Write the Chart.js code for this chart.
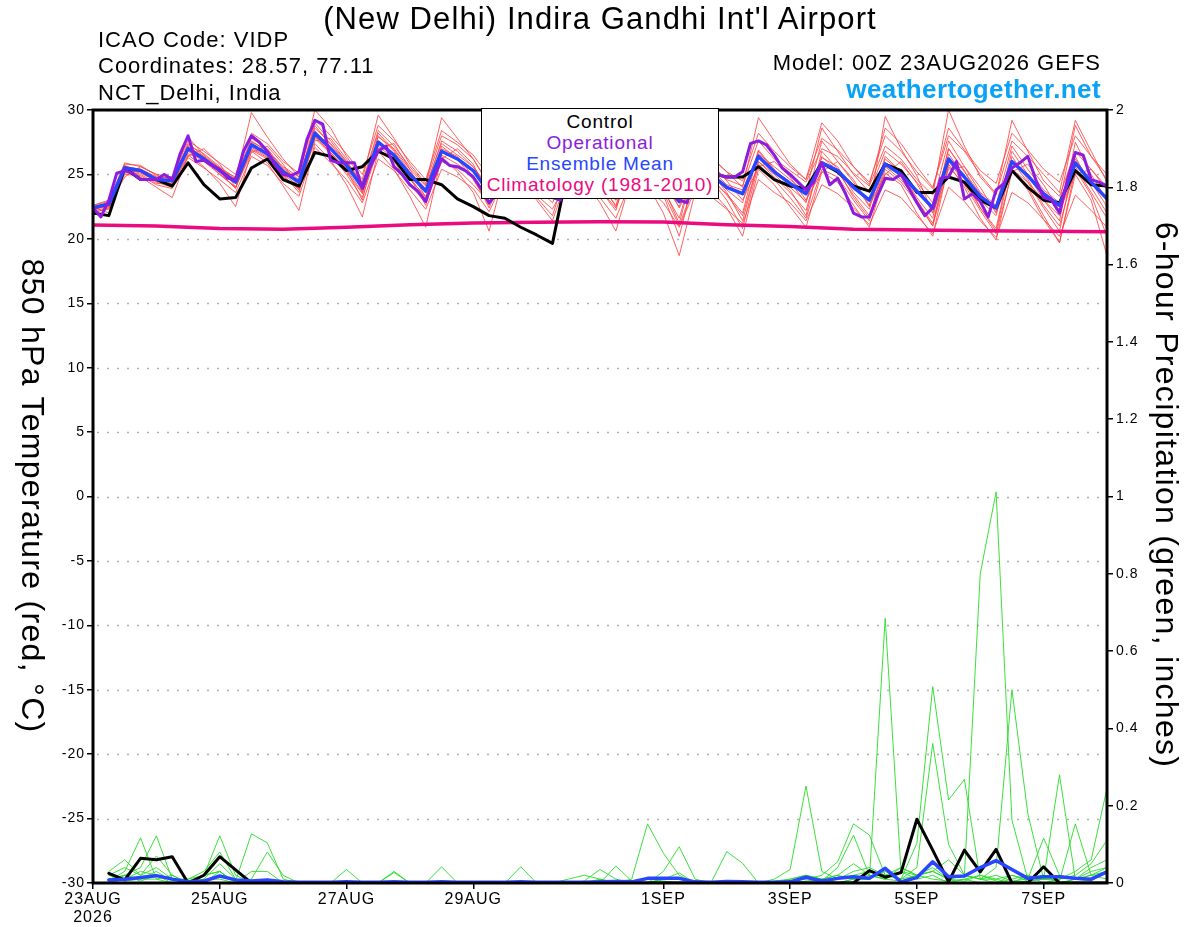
<!DOCTYPE html>
<html>
<head>
<meta charset="utf-8">
<title>VIDP GEFS meteogram</title>
<script src="https://cdn.jsdelivr.net/npm/chart.js@4.4.1/dist/chart.umd.min.js"></script>
<style>
html, body { margin: 0; padding: 0; background: #fff; }
#wrap { position: relative; width: 1200px; height: 927px; overflow: hidden;
        font-family: 'Liberation Sans', Arial, sans-serif; color: #000; }
#chart { position: absolute; left: 0; top: 0; }
.txt { position: absolute; white-space: nowrap; }
#title { left: 0; width: 1200px; top: 2px; text-align: center; font-size: 31px; line-height: 34px; letter-spacing: 1.1px; }
.info { left: 98px; font-size: 22px; line-height: 22px; letter-spacing: 1px; }
.rinfo { right: 99px; text-align: right; }
#model { top: 52px; font-size: 22px; line-height: 22px; letter-spacing: 1px; }
#site { top: 75px; font-size: 26px; line-height: 28px; font-weight: bold; color: #0aa2f7; letter-spacing: 0.4px; }
#legend { position: absolute; left: 481px; top: 108px; width: 236px; height: 87px;
          border: 1.5px solid #000; background: #fff; text-align: center;
          font-size: 19px; line-height: 21px; padding-top: 2px; letter-spacing: 0.8px; box-sizing: content-box; }
.vtitle { position: absolute; writing-mode: vertical-rl; font-size: 32px; line-height: 34px;
          letter-spacing: 1.3px; white-space: nowrap; transform: translate(-50%, -50%); }
</style>
</head>
<body>
<div id="wrap">
  <canvas id="chart" width="1200" height="927"></canvas>
  <div class="txt" id="title">(New Delhi) Indira Gandhi Int'l Airport</div>
  <div class="txt info" style="top:29px">ICAO Code: VIDP</div>
  <div class="txt info" style="top:55px">Coordinates: 28.57, 77.11</div>
  <div class="txt info" style="top:82px">NCT_Delhi, India</div>
  <div class="txt rinfo" id="model">Model: 00Z 23AUG2026 GEFS</div>
  <div class="txt rinfo" id="site">weathertogether.net</div>
  <div id="legend">
    <div style="color:#000">Control</div>
    <div style="color:#8b1ce0">Operational</div>
    <div style="color:#2846ff">Ensemble Mean</div>
    <div style="color:#ec0a80">Climatology (1981-2010)</div>
  </div>
  <div class="vtitle" style="left:33px; top:496px">850 hPa Temperature (red, °C)</div>
  <div class="vtitle" style="left:1167px; top:495px">6-hour Precipitation (green, inches)</div>
</div>

<script>
const FONT = "'Liberation Sans', Arial, sans-serif";

// x axis = forecast hour from 00Z 23AUG2026
const tickHours = [0, 48, 96, 144, 216, 264, 312, 360];
const tickLabels = [['23AUG', '2026'], '25AUG', '27AUG', '29AUG', '1SEP', '3SEP', '5SEP', '7SEP'];

// 850 hPa temperature, 6-hourly from hour 0
const controlTemp = [22.0,
  21.8, 25.5, 24.6, 24.6,  24.1, 25.9, 24.2, 23.1,  23.2, 25.5, 26.2, 24.6,  24.1, 26.7, 26.4, 25.3,
  25.6, 26.8, 26.2, 24.6,  24.6, 24.2, 23.1, 22.5,  21.8, 21.6, 20.9, 20.3,  19.65, 25.6, 25.2, 24.5,
  23.6, 25.8, 25.4, 24.4,  23.4, 25.4, 25.1, 24.8,  24.8, 25.6, 24.6, 24.1,  23.9, 25.9, 25.2, 24.1,
  23.7, 25.8, 25.3, 23.6,  23.6, 24.8, 24.4, 23.0,  22.4, 25.3, 24.0, 23.0,  22.8, 25.3, 24.2, 24.1];

const ensMeanTemp = [22.4,
  22.7, 25.5, 25.3, 24.6,  24.5, 27.0, 26.2, 25.3,  24.4, 27.3, 26.6, 25.2,  24.4, 28.2, 27.0, 25.7,
  24.0, 27.5, 26.5, 25.0,  23.7, 26.8, 26.2, 25.3,  23.6, 26.3, 25.6, 24.8,  23.8, 26.0, 25.5, 24.6,
  23.4, 26.0, 25.4, 24.3,  22.9, 25.6, 25.0, 24.0,  23.5, 26.4, 25.2, 24.3,  23.5, 25.9, 25.3, 24.0,
  23.0, 25.8, 25.0, 23.7,  22.4, 26.2, 24.8, 23.3,  22.4, 26.0, 24.9, 23.5,  22.6, 25.9, 24.4, 23.1];

// operational run, 3-hourly from hour 0 (one row per day)
const operTemp = [
  22.4, 21.7, 23.0, 25.1, 25.3, 25.1, 24.6, 24.6,
  24.6, 25.0, 24.6, 26.6, 28.0, 26.0, 26.1, 25.7,
  25.4, 24.7, 24.6, 26.8, 28.0, 27.5, 26.8, 25.7,
  25.0, 24.9, 25.2, 27.7, 29.2, 28.9, 26.1, 25.9,
  25.9, 25.9, 23.9, 25.6, 26.8, 27.2, 25.6, 25.0,
  24.2, 23.7, 22.9, 24.7, 26.2, 25.7, 25.6, 25.3,
  24.8, 23.9, 22.8, 23.5, 25.8, 26.2, 25.6, 25.0,
  24.4, 23.8, 23.2, 23.0, 25.6, 26.0, 25.4, 24.8,
  24.3, 23.7, 23.2, 23.4, 25.8, 26.1, 25.5, 24.8,
  24.2, 23.6, 23.0, 22.8, 25.0, 25.5, 25.2, 24.95,
  24.8, 24.8, 25.2, 27.4, 27.6, 27.3, 26.5, 25.5,
  25.0, 24.4, 23.8, 24.4, 25.9, 24.2, 24.7, 23.5,
  22.0, 21.7, 21.7, 23.3, 24.7, 24.6, 25.0, 23.9,
  22.8, 21.8, 22.4, 24.7, 24.8, 26.0, 23.1, 23.5,
  22.9, 21.7, 23.8, 24.3, 25.5, 25.9, 26.4, 24.6,
  23.2, 23.0, 22.0, 24.6, 26.7, 26.5, 24.6, 24.4,
  24.1];

// 1981-2010 climatology, daily from hour 0
const climoTemp = [21.07, 21.0, 20.8, 20.75, 20.9, 21.1, 21.22, 21.28, 21.32,
  21.3, 21.1, 20.95, 20.75, 20.68, 20.62, 20.58, 20.55];

// ensemble members, 6-hourly from hour 0
const member01 = [22.6,
  22.9, 25.9, 25.6, 25.0,  24.8, 27.6, 26.8, 25.9,  25.0, 28.2, 27.4, 26.0,  25.1, 29.3, 28.0, 26.6,
  25.0, 28.8, 27.6, 26.0,  24.6, 28.4, 27.5, 26.5,  24.8, 27.6, 26.8, 25.9,  24.7, 27.4, 26.6, 25.5,
  24.4, 27.5, 26.8, 25.5,  24.2, 27.2, 26.4, 25.2,  24.5, 28.2, 26.8, 25.6,  24.6, 27.8, 26.9, 25.6,
  24.4, 28.0, 26.8, 25.2,  23.9, 28.6, 26.9, 25.3,  24.3, 28.2, 26.9, 25.4,  24.4, 28.0, 26.4, 25.0];
const member02 = [22.1,
  22.3, 25.0, 24.9, 24.2,  23.9, 26.3, 25.5, 24.6,  23.6, 26.4, 25.7, 24.3,  23.3, 27.1, 25.9, 24.6,
  22.8, 26.2, 25.3, 23.8,  22.3, 25.4, 24.8, 23.9,  22.1, 24.8, 24.2, 23.4,  22.3, 24.6, 24.1, 23.2,
  21.6, 24.6, 23.9, 22.8,  20.9, 23.8, 23.3, 22.3,  21.2, 24.6, 23.6, 22.8,  21.4, 24.2, 23.5, 22.4,
  21.1, 23.8, 23.2, 21.8,  20.4, 24.0, 22.9, 21.4,  20.1, 23.6, 22.8, 21.5,  20.2, 23.4, 22.2, 20.9];
const member03 = [22.3,
  22.5, 25.6, 25.4, 24.8,  24.7, 27.9, 26.5, 25.5,  24.6, 29.8, 27.9, 26.2,  24.8, 30.0, 28.6, 26.4,
  24.6, 29.6, 27.8, 25.8,  24.3, 28.0, 27.3, 26.2,  24.1, 26.8, 26.0, 24.9,  23.2, 26.3, 25.7, 24.5,
  22.5, 25.4, 24.8, 23.6,  21.0, 24.4, 24.5, 23.5,  22.0, 26.8, 25.3, 24.4,  22.8, 27.6, 26.0, 24.4,
  22.5, 29.5, 27.0, 24.9,  22.0, 27.0, 25.2, 23.5,  22.1, 25.4, 24.4, 23.0,  21.4, 27.5, 25.0, 23.0];
const member04 = [22.5,
  22.0, 25.2, 24.8, 24.0,  23.2, 26.5, 25.6, 24.3,  22.5, 26.8, 25.9, 24.1,  22.2, 27.4, 26.1, 24.2,
  21.7, 26.8, 25.4, 23.3,  20.9, 26.4, 25.2, 23.6,  20.6, 25.3, 24.6, 23.0,  21.4, 25.0, 24.4, 22.8,
  20.6, 24.8, 24.2, 22.0,  18.7, 23.6, 23.8, 22.4,  20.2, 25.4, 24.2, 22.5,  20.9, 25.2, 24.4, 22.6,
  20.9, 25.1, 24.2, 22.0,  20.2, 25.8, 24.0, 21.6,  19.9, 25.3, 23.8, 21.5,  19.7, 25.0, 23.0, 18.7];
const member05 = [22.2,
  22.8, 25.7, 25.2, 24.7,  24.8, 27.2, 26.3, 25.4,  24.8, 27.6, 26.8, 25.6,  24.8, 28.6, 27.4, 26.0,
  24.2, 27.9, 27.0, 25.4,  24.1, 27.4, 26.5, 25.6,  24.0, 26.9, 26.3, 25.5,  24.4, 26.8, 26.2, 25.4,
  24.3, 27.0, 26.4, 25.2,  23.8, 26.6, 25.8, 24.6,  24.1, 27.6, 26.2, 25.3,  24.4, 27.0, 26.4, 25.1,
  24.1, 27.2, 26.2, 24.6,  23.4, 30.0, 27.2, 24.8,  23.4, 29.2, 26.8, 24.5,  23.3, 26.8, 25.4, 24.0];
const member06 = [22.4,
  22.6, 24.8, 25.6, 25.0,  24.2, 26.4, 27.0, 25.8,  24.0, 26.7, 27.2, 25.8,  24.0, 27.6, 27.8, 26.2,
  23.6, 27.0, 27.4, 25.4,  23.2, 26.2, 27.0, 25.8,  23.2, 25.6, 26.4, 25.4,  23.5, 25.6, 26.3, 25.0,
  23.0, 25.4, 26.2, 24.8,  22.4, 25.0, 25.8, 24.5,  23.0, 25.6, 26.0, 24.8,  23.0, 25.2, 26.0, 24.6,
  22.6, 25.0, 26.0, 24.3,  22.0, 25.4, 25.6, 24.0,  22.0, 25.2, 25.8, 24.2,  22.2, 25.0, 25.4, 23.8];
const member07 = [22.0,
  22.4, 25.3, 25.0, 24.3,  24.3, 26.8, 26.0, 25.0,  24.0, 27.0, 26.3, 24.8,  23.9, 28.0, 26.7, 25.4,
  23.6, 27.2, 26.2, 24.6,  23.3, 26.5, 25.8, 24.9,  23.1, 26.2, 25.3, 24.4,  23.2, 25.8, 25.2, 24.2,
  23.0, 26.6, 25.6, 24.2,  22.5, 26.2, 25.2, 23.8,  22.8, 26.9, 25.4, 24.0,  22.9, 26.3, 25.6, 23.6,
  22.3, 26.4, 25.2, 23.2,  21.6, 27.0, 25.3, 23.0,  21.8, 26.8, 25.0, 23.0,  21.8, 26.2, 24.4, 22.5];
const member08 = [22.6,
  23.0, 25.8, 25.7, 24.9,  24.6, 27.3, 26.6, 25.6,  24.7, 27.8, 27.0, 25.5,  24.6, 29.0, 27.6, 26.0,
  24.4, 28.4, 27.2, 25.6,  24.2, 29.4, 27.8, 26.2,  24.3, 27.4, 26.6, 25.6,  24.2, 27.2, 26.5, 25.4,
  24.1, 27.4, 26.6, 25.2,  23.6, 27.6, 26.3, 25.2,  24.0, 29.4, 27.6, 25.8,  24.6, 29.0, 27.6, 25.6,
  24.2, 28.6, 27.4, 25.6,  24.0, 28.0, 26.8, 25.0,  23.5, 27.6, 26.4, 25.0,  23.6, 29.2, 26.8, 24.4];
const member09 = [22.3,
  22.6, 25.4, 25.1, 24.5,  24.6, 26.9, 26.1, 25.2,  24.3, 27.1, 26.4, 25.0,  24.1, 27.9, 26.7, 25.2,
  23.5, 27.6, 26.4, 24.8,  23.1, 27.2, 26.2, 24.6,  22.6, 26.0, 25.4, 24.8,  23.6, 26.4, 25.6, 24.2,
  22.6, 26.2, 25.2, 23.8,  21.6, 25.8, 24.8, 23.4,  21.8, 26.0, 24.8, 23.6,  22.2, 26.4, 25.2, 23.4,
  21.8, 25.6, 24.6, 23.0,  21.2, 26.0, 24.4, 22.4,  20.8, 26.4, 24.6, 22.6,  21.0, 25.6, 23.6, 21.6];
const member10 = [22.4,
  22.5, 25.5, 25.2, 24.4,  24.0, 27.1, 26.4, 25.1,  23.9, 27.4, 26.5, 25.0,  23.6, 28.4, 27.1, 25.4,
  23.0, 28.0, 26.8, 24.8,  22.6, 27.0, 26.4, 24.8,  22.4, 25.2, 24.4, 23.2,  21.8, 25.6, 25.0, 23.8,
  22.2, 26.4, 25.8, 24.0,  21.2, 25.8, 25.2, 23.6,  21.4, 26.0, 25.0, 23.8,  21.8, 26.8, 25.4, 23.2,
  21.6, 26.2, 25.2, 23.0,  21.0, 26.6, 24.8, 22.4,  20.6, 26.0, 24.4, 22.4,  20.6, 26.4, 24.0, 22.0];
const member11 = [22.5,
  22.8, 25.6, 25.4, 24.8,  24.4, 27.4, 26.4, 25.5,  24.5, 27.5, 26.9, 25.4,  24.5, 28.8, 27.3, 25.9,
  24.3, 28.2, 26.9, 25.2,  23.9, 27.6, 26.8, 25.6,  23.8, 26.6, 26.0, 25.2,  24.0, 26.4, 25.8, 24.8,
  23.4, 26.2, 25.6, 24.4,  23.0, 26.0, 25.4, 24.2,  23.8, 26.6, 25.6, 24.6,  23.6, 28.6, 26.8, 25.0,
  23.6, 26.8, 25.8, 24.4,  22.8, 27.6, 25.6, 23.6,  22.6, 27.2, 25.4, 23.8,  22.8, 28.8, 26.4, 24.6];
const member12 = [22.2,
  22.4, 25.1, 25.3, 24.6,  24.1, 26.6, 26.2, 25.0,  24.0, 26.9, 26.2, 24.9,  23.8, 27.8, 26.6, 25.0,
  23.2, 27.0, 26.0, 24.2,  22.8, 26.0, 25.4, 24.2,  22.8, 25.8, 25.0, 24.0,  22.8, 25.4, 24.8, 23.8,
  22.4, 25.6, 24.8, 23.4,  20.2, 25.0, 24.6, 23.0,  20.8, 25.8, 24.6, 23.2,  21.6, 25.4, 24.8, 23.0,
  21.4, 25.4, 24.4, 22.8,  21.0, 25.6, 24.2, 22.2,  20.4, 25.2, 24.0, 21.8,  19.7, 25.4, 23.4, 20.2];
const tempMembers = [member01, member02, member03, member04, member05, member06,
  member07, member08, member09, member10, member11, member12];

// 6-hour precipitation (inches), 6-hourly from hour 6
const controlPrecip = [
  0.025, 0.008, 0.064, 0.06,  0.068, 0, 0.02, 0.068,  0.034, 0, 0, 0,  0, 0, 0, 0,
  0, 0, 0, 0,  0, 0, 0, 0,  0, 0, 0, 0,  0, 0, 0, 0,
  0, 0, 0, 0,  0, 0, 0, 0,  0, 0, 0, 0,  0, 0, 0, 0,
  0.032, 0.015, 0.027, 0.165,  0.085, 0.003, 0.085, 0.029,  0.087, 0, 0, 0.042,  0, 0, 0, 0];
const ensMeanPrecip = [
  0.008, 0.01, 0.014, 0.019,  0.01, 0.003, 0.005, 0.018,  0.008, 0.005, 0.008, 0.003,  0.002, 0.002, 0.002, 0.003,
  0.002, 0.002, 0.003, 0.002,  0.002, 0.003, 0.002, 0.002,  0.002, 0.002, 0.003, 0.002,  0.002, 0.002, 0.002, 0.003,
  0.004, 0.003, 0.012, 0.012,  0.012, 0.003, 0.002, 0.004,  0.003, 0.002, 0.002, 0.003,  0.015, 0.005, 0.012, 0.016,
  0.012, 0.038, 0.003, 0.014,  0.055, 0.016, 0.018, 0.04,  0.058, 0.035, 0.012, 0.016,  0.016, 0.012, 0.01, 0.029];
const precip01 = [
  0.005, 0.03, 0.117, 0.01,  0, 0, 0.01, 0.05,  0.01, 0, 0, 0,  0, 0, 0, 0,
  0, 0, 0, 0,  0, 0, 0, 0,  0, 0, 0.042, 0,  0, 0, 0, 0,
  0, 0, 0.01, 0.005,  0, 0, 0, 0,  0, 0, 0, 0.005,  0.01, 0.02, 0.055, 0.153,
  0.124, 0.02, 0.01, 0.02,  0.03, 0.01, 0.005, 0.02,  0.01, 0, 0.005, 0.01,  0.005, 0.153, 0.02, 0.01];
const precip02 = [
  0.01, 0.02, 0.04, 0.122,  0.01, 0, 0, 0.02,  0.005, 0.127, 0.104, 0.01,  0, 0, 0, 0,
  0, 0, 0, 0,  0, 0, 0, 0,  0, 0, 0, 0,  0, 0, 0.005, 0.035,
  0.01, 0, 0, 0,  0, 0, 0, 0,  0, 0, 0, 0,  0, 0.005, 0.04, 0.124,
  0.02, 0.01, 0.04, 0.02,  0.01, 0.005, 0.01, 0,  0, 0.02, 0.01, 0.116,  0.02, 0.01, 0.03, 0.04];
const precip03 = [
  0.02, 0.04, 0.02, 0.07,  0.02, 0, 0, 0.03,  0, 0.01, 0.08, 0.02,  0, 0, 0, 0,
  0, 0, 0, 0,  0, 0, 0, 0,  0, 0, 0, 0,  0, 0, 0, 0,
  0.044, 0.005, 0, 0,  0, 0, 0, 0,  0, 0, 0, 0,  0, 0, 0, 0.01,
  0.01, 0.685, 0.029, 0.01,  0.02, 0, 0.01, 0.02,  0.005, 0, 0.02, 0,  0.01, 0.03, 0.06, 0.245];
const precip04 = [
  0.03, 0.06, 0.02, 0.04,  0.01, 0.01, 0.02, 0.03,  0, 0, 0, 0,  0, 0, 0, 0.035,
  0, 0, 0, 0,  0, 0, 0, 0,  0, 0, 0, 0,  0, 0, 0, 0,
  0, 0.01, 0.153, 0.077,  0.02, 0, 0, 0,  0, 0, 0, 0,  0.02, 0, 0.01, 0.03,
  0.04, 0.02, 0.01, 0.103,  0.508, 0.215, 0.268, 0.01,  0.02, 0.005, 0.01, 0.02,  0, 0.01, 0.005, 0.03];
const precip05 = [
  0, 0.01, 0.03, 0.02,  0.01, 0.005, 0.02, 0.122,  0.02, 0, 0.01, 0,  0, 0, 0, 0,
  0, 0, 0.03, 0,  0, 0, 0, 0,  0, 0, 0, 0,  0, 0, 0, 0.01,
  0, 0, 0, 0.03,  0.094, 0.01, 0, 0,  0, 0, 0, 0,  0.005, 0.01, 0.02, 0.01,
  0.01, 0.03, 0.01, 0.04,  0.361, 0.1, 0.02, 0.01,  0.01, 0.02, 0.005, 0.01,  0.01, 0.02, 0.05, 0.111];
const precip06 = [
  0.01, 0.02, 0.01, 0.03,  0.005, 0.01, 0.03, 0.08,  0.01, 0, 0, 0,  0, 0, 0, 0,
  0, 0, 0, 0,  0, 0.042, 0, 0,  0, 0, 0, 0,  0, 0, 0, 0,
  0, 0, 0, 0.01,  0.026, 0, 0, 0,  0, 0, 0, 0.01,  0.02, 0.01, 0, 0.01,
  0.02, 0.01, 0.005, 0.02,  0.03, 0.01, 0.02, 0.80,  1.012, 0.163, 0.01, 0.02,  0, 0.01, 0.02, 0.04];
const precip07 = [
  0.02, 0.005, 0.01, 0.01,  0.02, 0, 0.01, 0.01,  0, 0.03, 0.03, 0,  0, 0, 0, 0,
  0, 0, 0.027, 0,  0, 0, 0, 0,  0, 0, 0, 0,  0, 0, 0, 0,
  0, 0, 0, 0,  0, 0, 0, 0.081,  0.051, 0, 0.005, 0.01,  0.02, 0.01, 0.02, 0.05,
  0.02, 0.01, 0.03, 0.02,  0.04, 0.01, 0.02, 0.01,  0.04, 0.50, 0.18, 0.01,  0.02, 0.01, 0.04, 0.06];
const precip08 = [
  0, 0.02, 0.005, 0.02,  0, 0, 0.02, 0.03,  0, 0, 0, 0,  0, 0, 0, 0,
  0, 0, 0, 0,  0, 0, 0, 0,  0, 0, 0, 0,  0, 0.01, 0.02, 0.01,
  0, 0, 0, 0.01,  0.01, 0, 0, 0,  0, 0, 0.01, 0.035,  0.251, 0.03, 0.01, 0.02,
  0.03, 0.02, 0.04, 0.02,  0.03, 0.06, 0.02, 0.01,  0, 0.01, 0.02, 0.01,  0.28, 0.01, 0.02, 0.03];
const precipMembers = [precip01, precip02, precip03, precip04, precip05, precip06, precip07, precip08];

// values -> {x: forecast hour, y}
function series(values, step, start) {
  return values.map((v, i) => ({ x: start + i * step, y: v }));
}

function line(data, color, width, axis, order) {
  return {
    data, yAxisID: axis, order,
    borderColor: color, borderWidth: width,
    pointRadius: 0, tension: 0, fill: false,
    borderJoinStyle: 'round', borderCapStyle: 'round'
  };
}

const datasets = [];
precipMembers.forEach(p => datasets.push(line(series(p, 6, 6), 'rgba(40,220,40,0.9)', 1, 'yP', 20)));
datasets.push(line(series(ensMeanPrecip, 6, 6), '#2846ff', 3.5, 'yP', 6));
datasets.push(line(series(controlPrecip, 6, 6), '#000', 3, 'yP', 7));
tempMembers.forEach(m => datasets.push(line(series(m, 6, 0), 'rgba(255,70,70,0.85)', 1, 'yT', 15)));
datasets.push(line(series(climoTemp, 24, 0), '#ec0a80', 3.5, 'yT', 5));
datasets.push(line(series(controlTemp, 6, 0), '#000', 3, 'yT', 4));
datasets.push(line(series(ensMeanTemp, 6, 0), '#2846ff', 3.5, 'yT', 3));
datasets.push(line(series(operTemp, 3, 0), '#8b1ce0', 3, 'yT', 2));

// wider letter spacing for the canvas tick labels, like the original plot
const spacingPlugin = {
  id: 'spacing',
  beforeLayout(chart) { chart.ctx.letterSpacing = '1px'; },
  beforeDraw(chart) { chart.ctx.letterSpacing = '1px'; }
};

// dotted grid lines and the heavy frame round the plot
const framePlugin = {
  id: 'frame',
  beforeDatasetsDraw(chart) {
    const { ctx, chartArea: a, scales } = chart;
    ctx.save();
    ctx.strokeStyle = '#b0b0b0';
    ctx.lineWidth = 1.5;
    ctx.setLineDash([2, 8]);
    scales.yT.ticks.forEach(t => {
      const y = Math.round(scales.yT.getPixelForValue(t.value)) + 0.5;
      ctx.beginPath();
      ctx.moveTo(a.left + 4, y);
      ctx.lineTo(a.right, y);
      ctx.stroke();
    });
    ctx.restore();
  },
  afterDatasetsDraw(chart) {
    const { ctx, chartArea: a } = chart;
    ctx.save();
    ctx.strokeStyle = '#000';
    ctx.lineWidth = 3;
    ctx.strokeRect(a.left, a.top, a.right - a.left, a.bottom - a.top);
    ctx.restore();
  }
};

const tickFont = { family: FONT, size: 14 };

new Chart(document.getElementById('chart'), {
  type: 'line',
  data: { datasets },
  options: {
    responsive: false,
    animation: false,
    parsing: false,
    normalized: true,
    layout: { padding: { top: 110, left: 0, right: 0, bottom: 0 } },
    plugins: { legend: { display: false }, tooltip: { enabled: false } },
    scales: {
      x: {
        type: 'linear', min: 0, max: 384,
        afterFit(s) { s.height = 44; },
        afterBuildTicks(s) { s.ticks = tickHours.map(v => ({ value: v })); },
        ticks: {
          autoSkip: false, maxRotation: 0, padding: 2, color: '#000',
          font: { family: FONT, size: 16, lineHeight: 1.1 },
          callback: v => tickLabels[tickHours.indexOf(v)]
        },
        grid: { drawOnChartArea: false, color: '#000', lineWidth: 1.5, tickLength: 6 },
        border: { display: false }
      },
      yT: {
        position: 'left', min: -30, max: 30,
        afterFit(s) { s.width = 93; },
        ticks: { stepSize: 5, color: '#000', font: tickFont, padding: 2 },
        grid: { drawOnChartArea: false, color: '#000', lineWidth: 1.5, tickLength: 6 },
        border: { display: false }
      },
      yP: {
        position: 'right', min: 0, max: 2,
        afterFit(s) { s.width = 93; },
        ticks: {
          stepSize: 0.2, color: '#000', font: tickFont, padding: 3,
          callback: v => String(Math.round(v * 10) / 10)
        },
        grid: { drawOnChartArea: false, color: '#000', lineWidth: 1.5, tickLength: 6 },
        border: { display: false }
      }
    }
  },
  plugins: [spacingPlugin, framePlugin]
});
</script>
</body>
</html>
